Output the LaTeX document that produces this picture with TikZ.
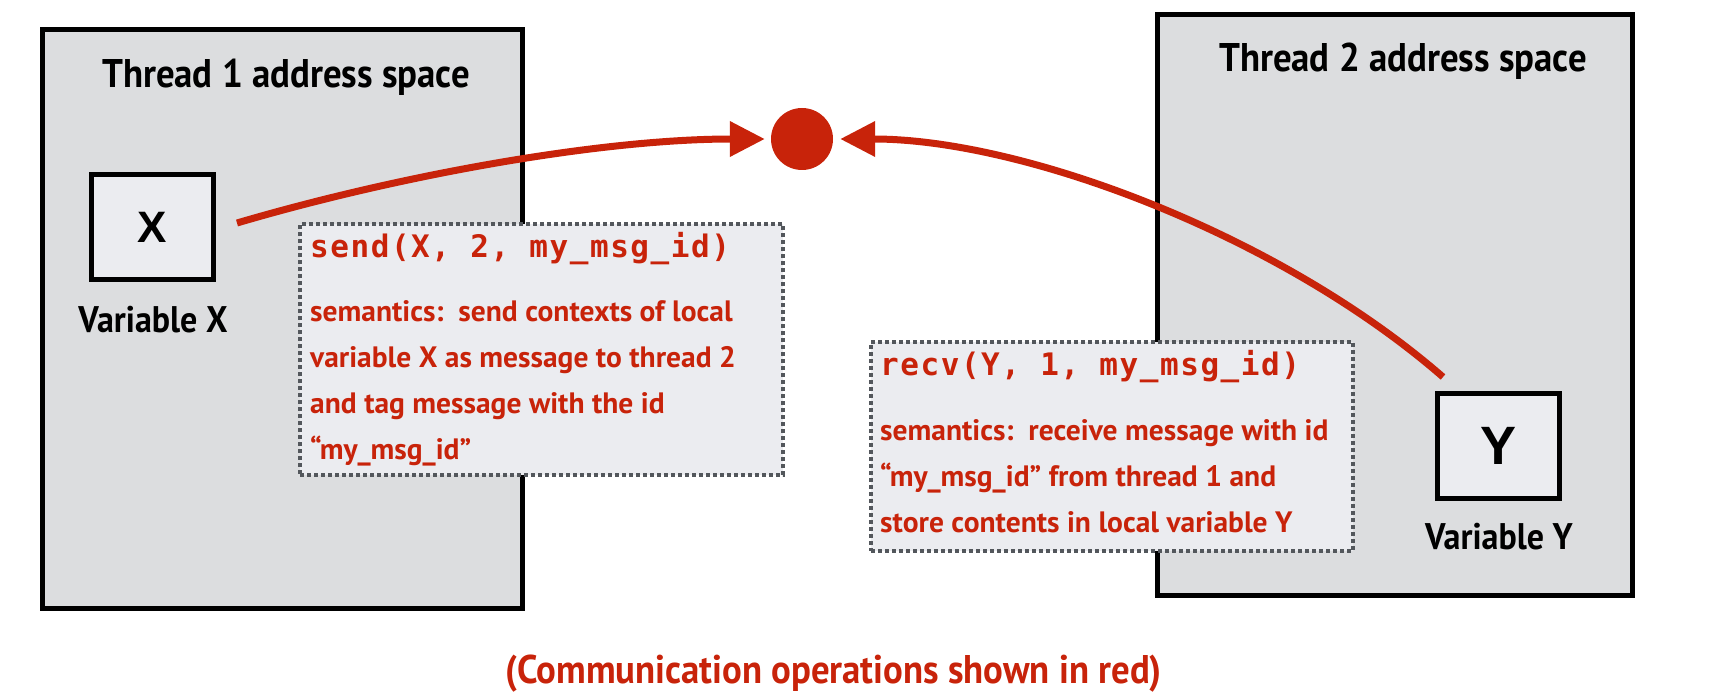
\documentclass[tikz,border=0pt]{standalone}
\usepackage{fontspec}
\usetikzlibrary{arrows.meta,positioning}
\newfontfamily\labelfont{PT Sans}[FakeStretch=0.92]
\newfontfamily\semfont{PT Sans}
\newfontfamily\codefont{DejaVu Sans Mono}[LetterSpace=5]
\newfontfamily\varfont{Liberation Sans}
\definecolor{opred}{RGB}{200,35,10}
\definecolor{spacegray}{RGB}{220,221,223}
\definecolor{boxgray}{RGB}{235,236,240}
\definecolor{dashgray}{RGB}{83,87,92}
\begin{document}
\begin{tikzpicture}[x=1pt,y=-1pt,
    space/.style={draw=black,line width=5pt,fill=spacegray,inner sep=0pt},
    var/.style={draw=black,line width=5pt,fill=boxgray,inner sep=0pt,
        minimum width=122pt,minimum height=105pt},
    opbox/.style={draw=dashgray,line width=3.5pt,dash pattern=on 4pt off 3pt,
        fill=boxgray,inner sep=0pt},
    title/.style={font=\labelfont\bfseries\fontsize{40}{48}\selectfont,anchor=base},
    varlabel/.style={font=\labelfont\bfseries\fontsize{37}{44}\selectfont,anchor=base},
    semtext/.style={opred,font=\semfont\bfseries\fontsize{29.5}{45.7}\selectfont,
        align=left,anchor=base west,inner sep=0pt},
    calltext/.style={opred,font=\codefont\bfseries\fontsize{31}{36}\selectfont,
        anchor=base west,inner sep=0pt},
    msg/.style={opred,line width=7pt,-{Triangle[length=35pt,width=34pt]}}]
  \useasboundingbox (0,0) rectangle (1711,698);
  % the two address spaces
  \node[space,minimum width=480pt,minimum height=578pt] (t1) at (282,319) {};
  \node[space,minimum width=475pt,minimum height=580pt] (t2) at (1394.5,305) {};
  \node[title] (t1title) at (286,88) {Thread 1 address space};
  \node[title] (t2title) at (1403,72) {Thread 2 address space};
  % local variables
  \node[var,font=\varfont\bfseries\fontsize{44}{50}\selectfont] (varx) at (152.5,227) {X};
  \node[var,font=\varfont\bfseries\fontsize{54}{60}\selectfont] (vary) at (1498,446) {Y};
  \node[varlabel] (xlabel) at (153,332) {Variable X};
  \node[varlabel] (ylabel) at (1499,549) {Variable Y};
  % operations (last line of each text sits on the given base)
  \node[opbox,minimum width=483pt,minimum height=251pt] (sendbox) at (541.5,349.5) {};
  \node[opbox,minimum width=482pt,minimum height=209pt] (recvbox) at (1112,446.5) {};
  \node[calltext] (sendcall) at (310,257) {send(X, 2, my\_msg\_id)};
  \node[semtext] (sendsem) at (310,459) {semantics:\ \ send contexts of local\\
      variable X as message to thread 2\\and tag message with the id\\“my\_msg\_id”};
  \node[calltext] (recvcall) at (880,375) {recv(Y, 1, my\_msg\_id)};
  \node[semtext] (recvsem) at (880,532) {semantics:\ \ receive message with id\\
      “my\_msg\_id” from thread 1 and\\store contents in local variable Y};
  \node[circle,fill=opred,inner sep=0pt,minimum size=62pt] (dot) at (802,139) {};
  \coordinate (xout) at (237,223);
  \coordinate (yout) at (1443,377);
  \draw[msg,shorten >=6pt] (xout) .. controls +(163,-48) and +(-170,0) .. (dot.west);
  \draw[msg,shorten >=7pt] (yout) .. controls +(-163,-142) and +(190,0) .. (dot.east);
  \node[title,text=opred] (note) at (834,683) {(Communication operations shown in red)};
\end{tikzpicture}
\end{document}
